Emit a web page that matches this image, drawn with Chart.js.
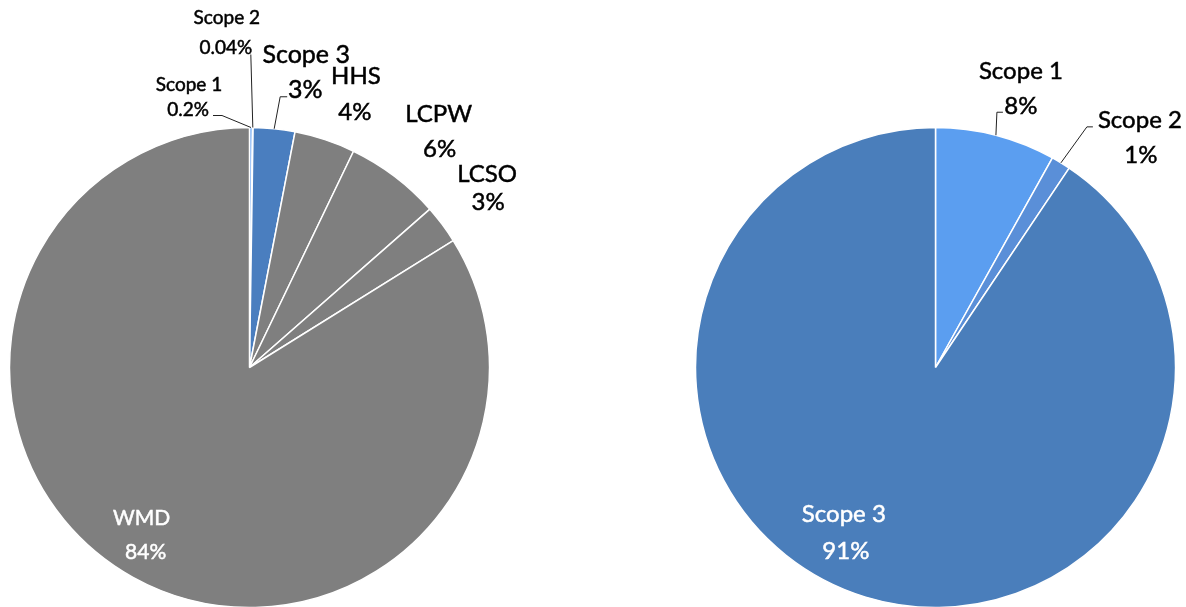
<!DOCTYPE html>
<html>
<head>
<meta charset="utf-8">
<script src="https://cdn.jsdelivr.net/npm/chart.js@4.4.1/dist/chart.umd.min.js"></script>
<style>
    html, body { margin: 0; padding: 0; background: #fff; }
    #wrap { position: relative; width: 1186px; height: 607px; overflow: hidden; }
    .box { position: absolute; top: 0; height: 607px; width: 593px; }
</style>
</head>
<body>
<div id="wrap">
    <div class="box" style="left:0"><canvas id="leftPie"></canvas></div>
    <div class="box" style="left:593px"><canvas id="rightPie"></canvas></div>
</div>
<script>
// --- data ---
const leftLabels = ['Scope 1', 'Scope 2', 'Scope 3', 'HHS', 'LCPW', 'LCSO', 'WMD'];
const leftValues = [0.2, 0.04, 2.8, 4.1, 6.4, 2.6, 83.9];
const leftPctText = ['0.2%', '0.04%', '3%', '4%', '6%', '3%', '84%'];

const rightLabels = ['Scope 1', 'Scope 2', 'Scope 3'];
const rightValues = [8.1, 1.3, 90.6];
const rightPctText = ['8%', '1%', '91%'];

const GREY = '#7f7f7f';
const leftColors = ['#5b9cf0', '#5a8fd8', '#4a7ebf', GREY, GREY, GREY, GREY];
const rightColors = ['#5b9ef0', '#5a8fd8', '#4a7ebb'];

// label placement: offsets from the slice's edge point (r = fraction of radius)
const leftSpots = [
    { size: 19, name: [-62, -43], pct: [-63, -18], leader: [[-29, -12], [-38, -12]] },
    { size: 19, name: [-26, -110], pct: [-27, -80], leader: [[-2, -73]] },
    { size: 25, name: [32, -74], pct: [31, -39], leader: [[6, -32], [13, -32]] },
    { size: 24, name: [31, -63], pct: [30, -27] },
    { size: 24, name: [44, -62], pct: [45, -27] },
    { size: 24, name: [45, -50], pct: [46, -22] },
    { size: 21, r: 0.84, name: [-10, -26], pct: [-6, 8], color: '#fff' }
];
const rightSpots = [
    { size: 24, name: [25, -64], pct: [25, -29], leader: [[1, -23], [7, -23]] },
    { size: 24, name: [79, -43], pct: [80, -8], leader: [[26, -36], [32, -36]] },
    { size: 24, r: 0.84, name: [-33, -46], pct: [-31, -9], color: '#fff' }
];

const sliceLabels = {
    id: 'sliceLabels',
    afterDatasetsDraw(chart, args, opts) {
        const ctx = chart.ctx;
        const meta = chart.getDatasetMeta(0);
        const names = chart.data.labels;
        meta.data.forEach((arc, i) => {
            const spec = opts.spots[i];
            if (!spec) return;
            const p = arc.getProps(['x', 'y', 'startAngle', 'endAngle', 'outerRadius'], true);
            const mid = (p.startAngle + p.endAngle) / 2;
            const r = p.outerRadius * (spec.r || 1);
            const ax = p.x + Math.cos(mid) * r;
            const ay = p.y + Math.sin(mid) * r;

            if (spec.leader) {
                ctx.save();
                ctx.strokeStyle = '#222';
                ctx.lineWidth = 1;
                ctx.beginPath();
                ctx.moveTo(ax, ay);
                spec.leader.forEach(pt => ctx.lineTo(ax + pt[0], ay + pt[1]));
                ctx.stroke();
                ctx.restore();
            }

            ctx.save();
            const col = spec.color || '#000';
            ctx.fillStyle = col;
            ctx.strokeStyle = col;
            ctx.lineWidth = 0.5; // a touch heavier, like the original's medium weight
            ctx.font = spec.size + 'px Lato';
            ctx.textAlign = 'center';
            ctx.textBaseline = 'middle';
            const nx = ax + spec.name[0], ny = ay + spec.name[1];
            const px = ax + spec.pct[0], py = ay + spec.pct[1];
            ctx.fillText(names[i], nx, ny);
            ctx.strokeText(names[i], nx, ny);
            ctx.fillText(opts.pctText[i], px, py);
            ctx.strokeText(opts.pctText[i], px, py);
            ctx.restore();
        });
    }
};

function makePie(id, labels, values, colors, pctText, spots, padding) {
    return new Chart(document.getElementById(id), {
        type: 'pie',
        data: {
            labels: labels,
            datasets: [{
                data: values,
                backgroundColor: colors,
                borderColor: '#ffffff',
                borderWidth: 1.5,
                hoverOffset: 0
            }]
        },
        options: {
            responsive: true,
            maintainAspectRatio: false,
            animation: false,
            radius: 240,
            layout: { padding: padding },
            plugins: {
                legend: { display: false },
                tooltip: { enabled: false },
                sliceLabels: { spots: spots, pctText: pctText }
            }
        },
        plugins: [sliceLabels]
    });
}

makePie('leftPie', leftLabels, leftValues, leftColors, leftPctText, leftSpots,
    { left: 9.5, right: 103.5, top: 128, bottom: 0 });
makePie('rightPie', rightLabels, rightValues, rightColors, rightPctText, rightSpots,
    { left: 102.5, right: 10.5, top: 128, bottom: 0 });
</script>
</body>
</html>
